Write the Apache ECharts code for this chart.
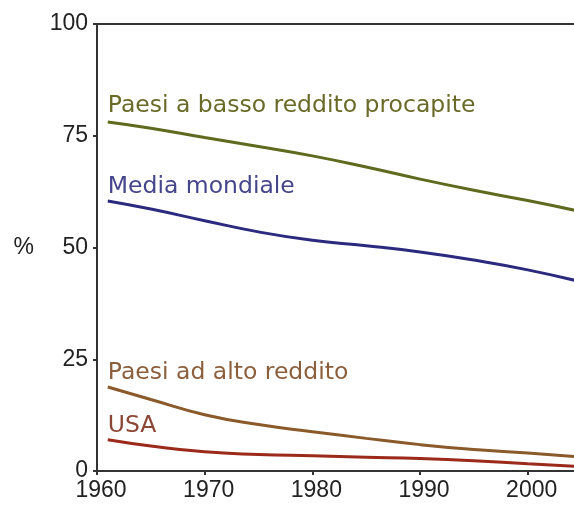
<!DOCTYPE html>
<html>
<head>
<meta charset="utf-8">
<title>Percentuale</title>
<script src="https://cdn.jsdelivr.net/npm/echarts@6/dist/echarts.min.js"></script>
<style>
  html, body { margin: 0; padding: 0; background: #fff; }
  #chart { width: 574px; height: 511px; }
</style>
</head>
<body>
<div id="chart"></div>
<script>
// anni e valori
var years = [1961, 1965, 1970, 1975, 1980, 1985, 1990, 1995, 2000, 2005];
var bassoReddito = [78.1, 76.7, 74.6, 72.6, 70.5, 68.0, 65.3, 62.8, 60.5, 58.0];
var mediaMondiale = [60.4, 58.6, 56.0, 53.5, 51.6, 50.4, 49.0, 47.2, 45.0, 42.3];
var altoReddito = [18.8, 16.0, 12.6, 10.4, 8.8, 7.3, 5.9, 4.8, 4.0, 3.1];
var usa = [7.0, 5.6, 4.3, 3.7, 3.4, 3.1, 2.8, 2.3, 1.6, 1.0];

var names = ['Paesi a basso reddito procapite', 'Media mondiale', 'Paesi ad alto reddito', 'USA'];
var lineColors = ['#5f6a1e', '#2b2a7e', '#8a5a2a', '#9b2a1a'];
var textColors = ['#6a6a28', '#45458c', '#8b5e3c', '#8b4636'];
var allData = [bassoReddito, mediaMondiale, altoReddito, usa];
// posizione delle etichette (anno, valore)
var labelPos = [[1961, 81.7], [1961, 63.6], [1961, 22.0], [1961, 10.1]];

function pairs(arr) {
  return years.map(function (y, i) { return [y, arr[i]]; });
}

var series = allData.map(function (d, i) {
  return {
    name: names[i],
    type: 'line',
    smooth: true,
    symbol: 'none',
    data: pairs(d),
    lineStyle: { color: lineColors[i], width: 3 }
  };
});

// etichette come testo accanto alle linee
series.push({
  type: 'scatter',
  symbolSize: 0,
  silent: true,
  itemStyle: { opacity: 1 },
  data: labelPos.map(function (p, i) {
    return {
      value: p,
      label: {
        show: true,
        formatter: names[i],
        position: 'right',
        distance: 0,
        color: textColors[i],
        fontFamily: 'DejaVu Sans',
        fontSize: 23.5
      }
    };
  })
});

var chart = echarts.init(document.getElementById('chart'));
chart.setOption({
  animation: false,
  grid: { left: 97, right: 0, top: 24, bottom: 40 },
  xAxis: [{
    type: 'value',
    min: 1960,
    max: 2004.3,
    interval: 10,
    axisLine: { lineStyle: { color: '#333', width: 2 } },
    axisTick: { show: true, length: 4, lineStyle: { color: '#333', width: 2 } },
    axisLabel: {
      color: '#222',
      fontFamily: 'Liberation Sans',
      fontSize: 23,
      margin: 8,
      padding: [0, 0, 0, 8],
      showMaxLabel: false,
      formatter: function (v) { return String(v); }
    },
    splitLine: { show: false }
  }, {
    type: 'value',
    position: 'top',
    min: 1960,
    max: 2004.3,
    axisLine: { show: true, onZero: false, lineStyle: { color: '#333', width: 2 } },
    axisTick: { show: false },
    axisLabel: { show: false },
    splitLine: { show: false }
  }],
  yAxis: {
    type: 'value',
    min: 0,
    max: 100,
    interval: 25,
    name: '%',
    nameLocation: 'middle',
    nameRotate: 0,
    nameGap: 63,
    nameTextStyle: { color: '#222', fontFamily: 'Liberation Sans', fontSize: 23, padding: [0, 0, 8, 0] },
    axisLine: { show: true, lineStyle: { color: '#333', width: 2 } },
    axisTick: { show: true, length: 4, lineStyle: { color: '#333', width: 2 } },
    axisLabel: {
      color: '#222',
      fontFamily: 'Liberation Sans',
      fontSize: 23,
      margin: 9
    },
    splitLine: { show: false }
  },
  series: series
});
</script>
</body>
</html>
